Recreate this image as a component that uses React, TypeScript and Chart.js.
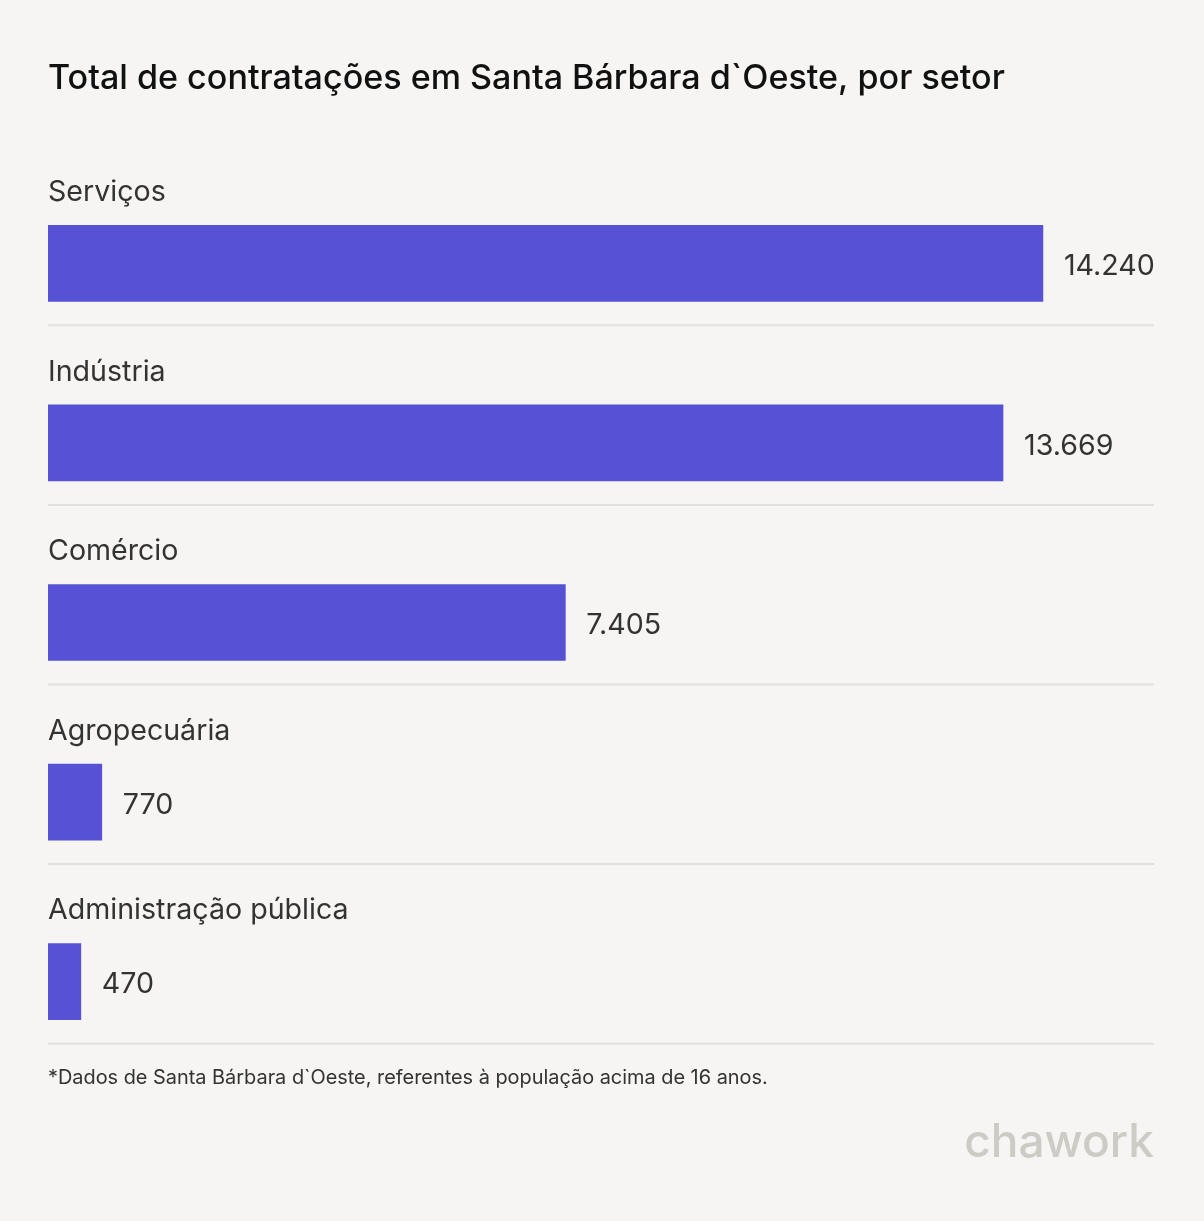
import React, { useEffect, useRef } from "react";
import { Chart, registerables } from "chart.js";

Chart.register(...registerables);

const title = "Total de contratações em Santa Bárbara d`Oeste, por setor";
const categories = ["Serviços", "Indústria", "Comércio", "Agropecuária", "Administração pública"];
const values = [14240, 13669, 7405, 770, 470];
const footnote = "*Dados de Santa Bárbara d`Oeste, referentes à população acima de 16 anos.";
const brand = "chawork";

const W = 1204;
const H = 1221;
const BG = "#f6f5f3";
const BAR = "#5752d5";
const FONT = "Inter, 'Noto Sans', sans-serif";

const overlay = {
  id: "overlay",
  beforeDraw(chart: any) {
    const ctx = chart.ctx;
    ctx.save();
    ctx.fillStyle = BG;
    ctx.fillRect(0, 0, chart.width, chart.height);
    ctx.restore();
  },
  afterDatasetsDraw(chart: any) {
    const ctx = chart.ctx;
    const area = chart.chartArea;
    const meta = chart.getDatasetMeta(0);
    ctx.save();
    // title
    ctx.fillStyle = "#111111";
    ctx.font = `500 34.1px ${FONT}`;
    ctx.textBaseline = "middle";
    ctx.textAlign = "left";
    ctx.fillText(title, 48, 79);

    meta.data.forEach((bar: any, i: number) => {
      const half = bar.height / 2;
      const top = bar.y - half;
      const bottom = bar.y + half;
      // category label
      ctx.fillStyle = "#333333";
      ctx.font = `400 28.6px ${FONT}`;
      ctx.textAlign = "left";
      ctx.textBaseline = "middle";
      ctx.fillText(categories[i], area.left, top - 33);
      // value label
      ctx.fillText(values[i].toLocaleString("pt-BR"), bar.x + 21, bar.y + 3);
      // separator
      ctx.strokeStyle = "#e2e0dc";
      ctx.lineWidth = 2;
      ctx.beginPath();
      ctx.moveTo(area.left, bottom + 24);
      ctx.lineTo(area.right, bottom + 24);
      ctx.stroke();
    });

    // footnote
    ctx.fillStyle = "#333333";
    ctx.font = `400 19.9px ${FONT}`;
    ctx.textAlign = "left";
    ctx.fillText(footnote, 48, 1078);

    // brand
    ctx.fillStyle = "#cdcbc5";
    ctx.font = `500 46px ${FONT}`;
    ctx.textAlign = "right";
    ctx.fillText(brand, 1154, 1143);
    ctx.restore();
  },
};

export default function App() {
  const ref = useRef<HTMLCanvasElement | null>(null);
  useEffect(() => {
    document.body.style.margin = "0";
    document.body.style.background = BG;
    const chart = new Chart(ref.current as HTMLCanvasElement, {
      type: "bar",
      data: {
        labels: categories,
        datasets: [
          {
            data: values,
            backgroundColor: BAR,
            barThickness: 76,
            borderWidth: 0,
          },
        ],
      },
      options: {
        indexAxis: "y",
        animation: false,
        responsive: false,
        maintainAspectRatio: false,
        layout: { padding: { left: 48, right: 50, top: 173.5, bottom: 149.5 } },
        scales: {
          x: { display: false, min: 0, max: 15830, grid: { display: false } },
          y: { display: false, grid: { display: false } },
        },
        plugins: {
          legend: { display: false },
          tooltip: { enabled: false },
          title: { display: false },
        },
      },
      plugins: [overlay],
    });
    return () => chart.destroy();
  }, []);
  return (
    <div style={{ width: W, height: H, background: BG }}>
      <canvas ref={ref} width={W} height={H} style={{ display: "block" }} />
    </div>
  );
}
